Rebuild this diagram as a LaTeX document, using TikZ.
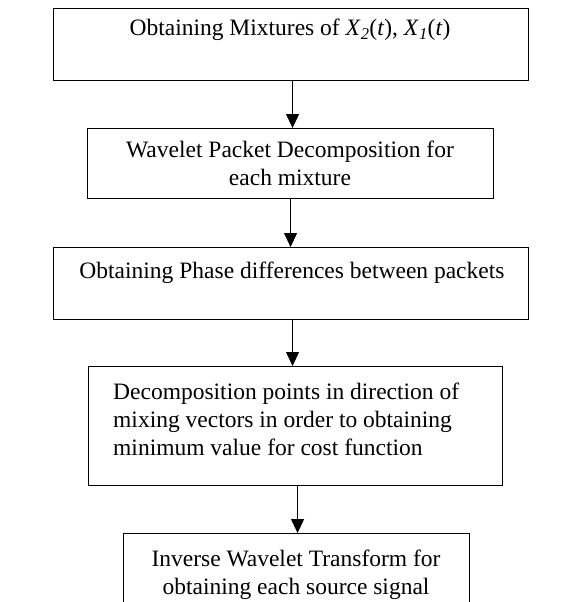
\documentclass[tikz,border=0pt]{standalone}
\usepackage{fontspec}
\setmainfont{Liberation Serif}
\usetikzlibrary{arrows.meta}
\begin{document}
\begin{tikzpicture}[x=1pt,y=-1pt,
  box/.style={draw,line width=1.1pt,rectangle,inner sep=0pt,anchor=north west},
  txt/.style={font=\fontsize{23.5}{27.6}\selectfont,inner sep=0pt,anchor=base,align=center},
  arr/.style={line width=1.1pt,-{Triangle[length=14pt,width=13pt]}}]
\useasboundingbox (0,0) rectangle (566,602);
\clip (0,0) rectangle (566,602);
\node[box,minimum width=475pt,minimum height=72pt] (b1) at (53,8) {};
\node[box,minimum width=406pt,minimum height=70pt] (b2) at (87,128) {};
\node[box,minimum width=475pt,minimum height=72pt] (b3) at (53,247) {};
\node[box,minimum width=414pt,minimum height=119pt] (b4) at (88,366) {};
\node[box,minimum width=346pt,minimum height=120pt] (b5) at (123,533) {};
\node[txt] (t1) at (290,36) {Obtaining Mixtures of \textit{X}\textsubscript{\textit{2}}(\textit{t}), \textit{X}\textsubscript{\textit{1}}(\textit{t})};
\node[txt] (t2) at (290,185) {Wavelet Packet Decomposition for\\each mixture};
\node[txt] (t3) at (292,278) {Obtaining Phase differences between packets};
\node[txt,anchor=base west,align=left] (t4) at (113,455) {Decomposition points in direction of\\mixing vectors in order to obtaining\\minimum value for cost function};
\node[txt] (t5) at (296,594) {Inverse Wavelet Transform for\\obtaining each source signal};
\draw[arr] ([xshift=1.5pt]b1.south) -- ([xshift=1.5pt]b1.south |- b2.north);
\draw[arr] (b2.south) -- (b2.south |- b3.north);
\draw[arr] ([xshift=1.5pt]b3.south) -- ([xshift=1.5pt]b3.south |- b4.north);
\draw[arr] ([xshift=2pt]b4.south) -- ([xshift=2pt]b4.south |- b5.north);
\end{tikzpicture}
\end{document}
